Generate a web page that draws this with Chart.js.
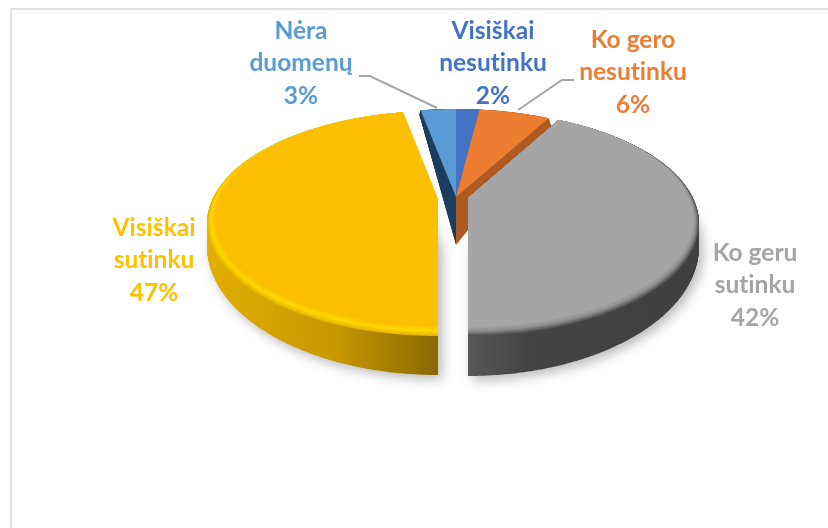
<!DOCTYPE html>
<html>
<head>
<meta charset="utf-8">
<style>
  html, body { margin: 0; padding: 0; background: #fff; }
  #frame { position: absolute; left: 10px; top: 8px; right: 0; bottom: 0; border-top: 2px solid #e2e2e2; border-left: 2px solid #e2e2e2; }
  #chart { position: absolute; left: 0; top: 0; }
</style>
<script src="https://cdn.jsdelivr.net/npm/chart.js@4"></script>
</head>
<body>
<div id="frame"></div>
<canvas id="chart" width="828" height="528"></canvas>
<script>
const categories = ['Visiškai nesutinku', 'Ko gero nesutinku', 'Ko geru sutinku', 'Visiškai sutinku', 'Nėra duomenų'];
const values = [2, 6, 42, 47, 3];
const labelLines = [['Visiškai', 'nesutinku'], ['Ko gero', 'nesutinku'], ['Ko geru', 'sutinku'], ['Visiškai', 'sutinku'], ['Nėra', 'duomenų']];

const faceColors = ['#4472c4', '#ed7d31', '#a5a5a5', '#fcbe00', '#5b9bd5'];
const labelColors = ['#4472c4', '#ed7d31', '#a5a5a5', '#ffc000', '#5b9bd5'];
// wedge walls: blue's is hidden behind the orange wall, so it takes the same brown
const wallColors = ['#ae5a21', '#ae5a21', null, null, '#1f3f5e'];

// Label centres and leader lines, in page pixels
const labelSpots = [[493, 31], [633, 40], [755, 253], [154, 228], [301, 31]];
const leaders = [
  [[359, 76], [370, 76], [437, 108]],
  [[574, 80], [562, 80], [518, 110]],
];

// Where each part of the pie lands: apex, distance to back/front rim, half width
const smallPie = {
  top: { x: 456, y: 197, back: 88, front: 135, half: 233 },
  bottom: { x: 456, y: 245, back: 132, front: 190, half: 233 },
};
const greyPie = {
  top: { x: 468, y: 198, back: 87, front: 138, half: 231 },
  inner: { x: 468, y: 198, back: 87, front: 129, half: 225 },
  bottom: { x: 468, y: 246, back: 129, front: 130, half: 231 },
  ramp: ['#505050', '#8e8e8e', '#a5a5a5'],
};
const yellowPie = {
  top: { x: 438, y: 200, back: 89, front: 136, half: 231 },
  inner: { x: 438, y: 200, back: 89, front: 126, half: 223 },
  bottom: { x: 438, y: 246, back: 129, front: 129, half: 231 },
  ramp: ['#e8b400', '#ffd900', '#fcbe00'],
};

function lerpGeo(a, b, t) {
  const out = {};
  Object.keys(a).forEach((k) => { out[k] = a[k] + (b[k] - a[k]) * t; });
  return out;
}

function hexMix(c1, c2, t) {
  const p = (c, i) => parseInt(c.substr(1 + i * 2, 2), 16);
  const ch = [0, 1, 2].map((i) => Math.round(p(c1, i) + (p(c2, i) - p(c1, i)) * t));
  return `rgb(${ch[0]},${ch[1]},${ch[2]})`;
}

function rampColor(ramp, t) {
  const s = t * (ramp.length - 1);
  const i = Math.min(Math.floor(s), ramp.length - 2);
  return hexMix(ramp[i], ramp[i + 1], s - i);
}

// Draw the library's arc element through a perspective tilt, by bending the path calls it makes
function drawTilted(ctx, arc, geo, color) {
  const ry = 2 / (1 / geo.back + 1 / geo.front);
  const k = ry / geo.front - 1;
  const rx = geo.half * Math.sqrt(1 - k * k);
  const R = arc.outerRadius;
  const map = (x, y) => {
    const u = (x - arc.x) / R;
    const v = (y - arc.y) / R;
    const w = 1 + k * v;
    return [geo.x + rx * u / w, geo.y + ry * v / w];
  };
  const proto = CanvasRenderingContext2D.prototype;
  ctx.lineTo = (x, y) => proto.lineTo.apply(ctx, map(x, y));
  ctx.moveTo = (x, y) => proto.moveTo.apply(ctx, map(x, y));
  ctx.arc = (x, y, r, a, b) => {
    const steps = Math.max(1, Math.ceil(Math.abs(b - a) / 0.01));
    for (let i = 0; i <= steps; i++) {
      const ang = a + (b - a) * i / steps;
      proto.lineTo.apply(ctx, map(x + r * Math.cos(ang), y + r * Math.sin(ang)));
    }
  };
  const ghost = Object.create(arc);
  ghost.options = Object.assign({}, arc.options, { backgroundColor: color });
  ghost.draw(ctx);
  delete ctx.lineTo;
  delete ctx.moveTo;
  delete ctx.arc;
}

function drawBody(ctx, arc, pie, sideColor, withShadow) {
  const n = Math.round(pie.bottom.y - pie.top.y);
  for (let i = 0; i <= n; i++) {
    ctx.save();
    if (withShadow && i === 0) {
      ctx.shadowColor = 'rgba(0,0,0,0.28)';
      ctx.shadowBlur = 12;
      ctx.shadowOffsetX = 4;
      ctx.shadowOffsetY = 4;
    }
    drawTilted(ctx, arc, lerpGeo(pie.bottom, pie.top, i / n), sideColor);
    ctx.restore();
  }
}

const pie3d = {
  id: 'pie3d',
  beforeDatasetsDraw(chart) {
    const ctx = chart.ctx;
    const arcs = chart.getDatasetMeta(0).data;

    // small slices first, they sit behind the two big ones
    [4, 0, 1].forEach((i) => drawBody(ctx, arcs[i], smallPie, wallColors[i], false));
    [4, 0, 1].forEach((i) => drawTilted(ctx, arcs[i], smallPie.top, faceColors[i]));

    const yellowSide = ctx.createLinearGradient(207, 0, 438, 0);
    yellowSide.addColorStop(0, '#e3ae00');
    yellowSide.addColorStop(0.55, '#c79800');
    yellowSide.addColorStop(1, '#8a6800');
    const greySide = ctx.createLinearGradient(468, 0, 700, 0);
    greySide.addColorStop(0, '#585858');
    greySide.addColorStop(0.25, '#444444');
    greySide.addColorStop(1, '#404040');

    [[3, yellowPie, yellowSide], [2, greyPie, greySide]].forEach(([i, pie, side]) => {
      drawBody(ctx, arcs[i], pie, side, true);
      // rounded rim, then the flat face
      const steps = 14;
      for (let s = 0; s <= steps; s++) {
        drawTilted(ctx, arcs[i], lerpGeo(pie.top, pie.inner, s / steps), rampColor(pie.ramp, s / steps));
      }
      drawTilted(ctx, arcs[i], pie.inner, faceColors[i]);
    });
    return false;
  },
  afterDraw(chart) {
    const ctx = chart.ctx;
    ctx.save();
    ctx.strokeStyle = '#a6a6a6';
    ctx.lineWidth = 2;
    leaders.forEach((pts) => {
      ctx.beginPath();
      pts.forEach((p, i) => (i ? ctx.lineTo(p[0], p[1]) : ctx.moveTo(p[0], p[1])));
      ctx.stroke();
    });
    ctx.font = 'bold 24.5px Lato';
    ctx.letterSpacing = '0.01px'; // keeps Lato's "ti" ligature out
    ctx.textAlign = 'center';
    ctx.textBaseline = 'middle';
    labelLines.forEach((lines, i) => {
      ctx.fillStyle = labelColors[i];
      lines.concat(values[i] + '%').forEach((txt, j) => {
        ctx.fillText(txt, labelSpots[i][0], labelSpots[i][1] + j * 32.5);
      });
    });
    ctx.restore();
  },
};

new Chart(document.getElementById('chart'), {
  type: 'pie',
  data: {
    labels: categories,
    datasets: [{ data: values, backgroundColor: faceColors, borderWidth: 0 }],
  },
  options: {
    responsive: false,
    animation: false,
    plugins: { legend: { display: false }, tooltip: { enabled: false } },
  },
  plugins: [pie3d],
});
</script>
</body>
</html>
